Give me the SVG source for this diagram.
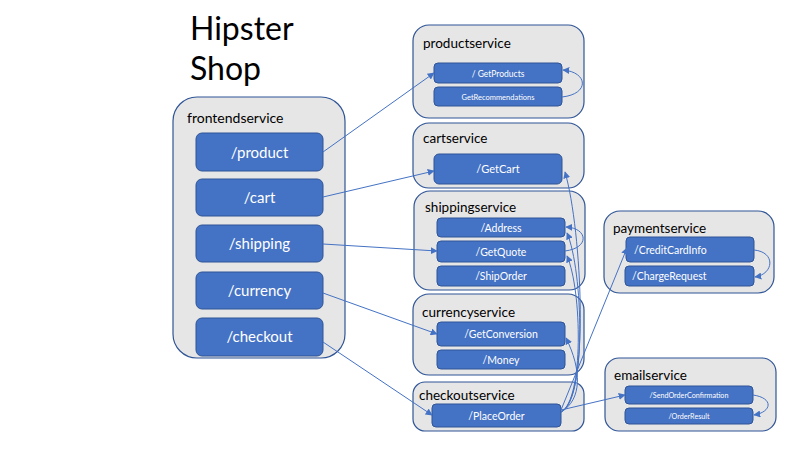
<svg xmlns="http://www.w3.org/2000/svg" width="800" height="450" viewBox="0 0 800 450">
<defs>
<style>
.box{fill:#E7E6E6;stroke:#2F5597;stroke-width:1.2}
.btn{fill:#4472C4;stroke:#2F5597;stroke-width:1}
.lbl{font-family:Lato,"Liberation Sans",sans-serif;fill:#000}
.bt{font-family:Lato,"Liberation Sans",sans-serif;fill:#fff;text-anchor:middle}
.bl{font-family:Lato,"Liberation Sans",sans-serif;fill:#fff}
.c{fill:none;stroke:#4472C4;stroke-width:1;marker-end:url(#ah)}
</style>
<marker id="ah" viewBox="0 0 10 10" refX="9" refY="5" markerWidth="7" markerHeight="7" orient="auto-start-reverse" markerUnits="userSpaceOnUse">
<path d="M0,0 L10,5 L0,10 z" fill="#4472C4"/>
</marker>
</defs>
<rect width="800" height="450" fill="#fff"/>
<g id="title">
<text class="lbl" x="190" y="40" font-size="32">Hipster</text>
<text class="lbl" x="190" y="80" font-size="32">Shop</text>
</g>
<g id="frontendservice">
<rect class="box" x="173" y="97" width="172" height="261" rx="24"/>
<text class="lbl" x="187" y="123" font-size="14">frontendservice</text>
<rect class="btn" x="196" y="133" width="127" height="38" rx="6"/>
<text class="bt" x="259.5" y="158" font-size="15">/product</text>
<rect class="btn" x="196" y="179" width="127" height="37" rx="6"/>
<text class="bt" x="259.5" y="203" font-size="15">/cart</text>
<rect class="btn" x="196" y="225" width="127" height="37" rx="6"/>
<text class="bt" x="259.5" y="249" font-size="15">/shipping</text>
<rect class="btn" x="196" y="272" width="127" height="37" rx="6"/>
<text class="bt" x="259.5" y="296" font-size="15">/currency</text>
<rect class="btn" x="196" y="318" width="127" height="38" rx="6"/>
<text class="bt" x="259.5" y="342" font-size="15">/checkout</text>
</g>
<g id="productservice">
<rect class="box" x="413" y="25" width="171" height="93" rx="16"/>
<text class="lbl" x="423" y="48" font-size="13.5">productservice</text>
<rect class="btn" x="434" y="63" width="128" height="20" rx="4"/>
<text class="bt" x="498" y="76.5" font-size="8.5">/ GetProducts</text>
<rect class="btn" x="434" y="87" width="128" height="19" rx="4"/>
<text class="bt" x="498" y="100" font-size="7.5">GetRecommendations</text>
</g>
<g id="cartservice">
<rect class="box" x="413" y="123" width="171" height="65" rx="16"/>
<text class="lbl" x="423" y="143" font-size="13.5">cartservice</text>
<rect class="btn" x="434" y="154" width="128" height="30" rx="5"/>
<text class="bt" x="498" y="173" font-size="11">/GetCart</text>
</g>
<g id="shippingservice">
<rect class="box" x="414" y="191" width="171" height="99" rx="16"/>
<text class="lbl" x="425" y="212" font-size="13.5">shippingservice</text>
<rect class="btn" x="437" y="218" width="128" height="19" rx="4"/>
<text class="bt" x="501" y="231.5" font-size="10.5">/Address</text>
<rect class="btn" x="437" y="241" width="128" height="21" rx="4"/>
<text class="bt" x="501" y="255.5" font-size="10.5">/GetQuote</text>
<rect class="btn" x="437" y="266" width="128" height="20" rx="4"/>
<text class="bt" x="501" y="280" font-size="10.5">/ShipOrder</text>
</g>
<g id="currencyservice">
<rect class="box" x="413" y="294" width="171" height="81" rx="16"/>
<text class="lbl" x="422" y="317" font-size="13.5">currencyservice</text>
<rect class="btn" x="437" y="322" width="128" height="24" rx="4"/>
<text class="bt" x="501" y="338" font-size="10.5">/GetConversion</text>
<rect class="btn" x="437" y="350" width="128" height="19" rx="4"/>
<text class="bt" x="501" y="363.5" font-size="10.5">/Money</text>
</g>
<g id="checkoutservice">
<rect class="box" x="413" y="382" width="171" height="49" rx="12"/>
<text class="lbl" x="419" y="400" font-size="13.5">checkoutservice</text>
<rect class="btn" x="432" y="404" width="129" height="23" rx="4"/>
<text class="bt" x="496.5" y="419.5" font-size="10.5">/PlaceOrder</text>
</g>
<g id="paymentservice">
<rect class="box" x="604" y="211" width="170" height="82" rx="16"/>
<text class="lbl" x="613" y="233" font-size="13.5">paymentservice</text>
<rect class="btn" x="626" y="237" width="128" height="25" rx="4"/>
<text class="bl" x="634" y="253.5" font-size="10.5">/CreditCardInfo</text>
<rect class="btn" x="625" y="266" width="129" height="20" rx="4"/>
<text class="bl" x="632" y="280" font-size="10.5">/ChargeRequest</text>
</g>
<g id="emailservice">
<rect class="box" x="605" y="358" width="171" height="73" rx="14"/>
<text class="lbl" x="614" y="380" font-size="13.5">emailservice</text>
<rect class="btn" x="625" y="386" width="128" height="18" rx="4"/>
<text class="bt" x="689" y="398" font-size="7.2">/SendOrderConfirmation</text>
<rect class="btn" x="625" y="408" width="128" height="16" rx="4"/>
<text class="bt" x="689" y="419" font-size="7.2">/OrderResult</text>
</g>
<g id="connectors">
<path class="c" d="M323,152 L434,73"/>
<path class="c" d="M323,197 L434,171"/>
<path class="c" d="M323,244 L437,251"/>
<path class="c" d="M323,293 L437,334"/>
<path class="c" d="M323,342 L432,415"/>
<path class="c" d="M562,97 C590,94 588,72 563,70"/>
<path class="c" d="M565,251 C590,248 588,228 566,227"/>
<path class="c" d="M754,250 C776,252 774,274 755,277"/>
<path class="c" d="M753,395 C774,398 772,412 754,415"/>
<path class="c" d="M561,410 L625,395"/>
<path class="c" d="M561,410 L627,248"/>
<path class="c" d="M561,412 C590,400 582,230 565,172"/>
<path class="c" d="M561,412 C587,400 583,270 567,233"/>
<path class="c" d="M561,412 C584,400 582,290 567,256"/>
<path class="c" d="M561,412 C582,400 582,370 566,338"/>
</g>
</svg>
